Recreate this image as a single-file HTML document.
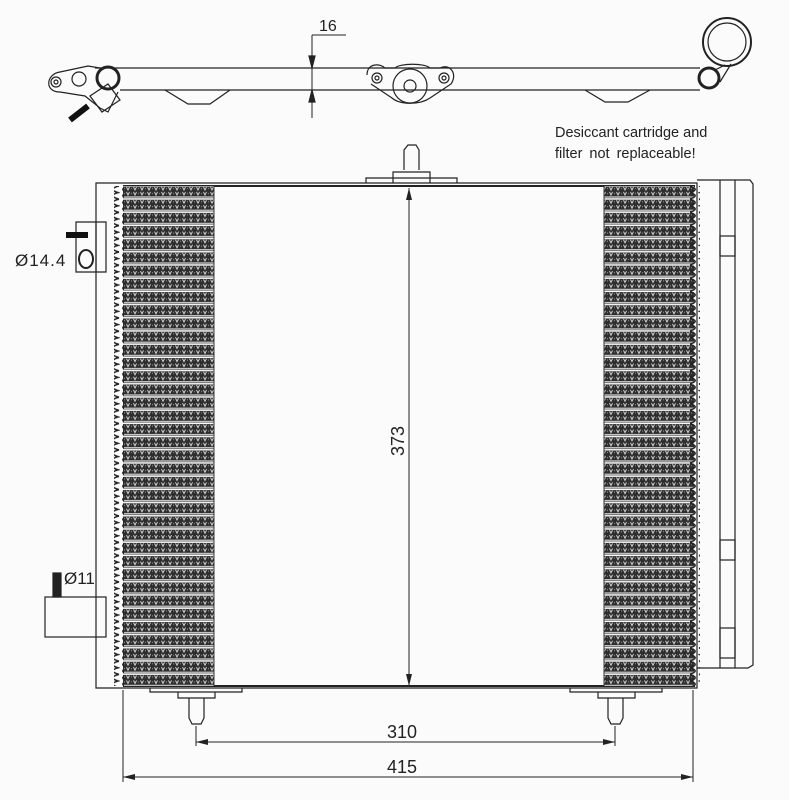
<!DOCTYPE html>
<html><head><meta charset="utf-8"><style>
html,body{margin:0;padding:0;background:#fbfbfb;}
svg{display:block;}
text{font-family:"Liberation Sans",sans-serif;fill:#222;}
</style></head><body>
<svg width="789" height="800" viewBox="0 0 789 800" xmlns="http://www.w3.org/2000/svg">
<defs>
<pattern id="chk" width="7" height="5" patternUnits="userSpaceOnUse">
<rect width="7" height="5" fill="#2e2e2e"/>
<path d="M0.5 1 L2 4 L3.5 1" fill="none" stroke="#e0e0e0" stroke-width="0.9"/>
<rect x="5" y="2" width="1" height="1" fill="#999"/>
</pattern>
<pattern id="rows" x="0" y="186" width="21" height="13.2" patternUnits="userSpaceOnUse">
<rect width="21" height="13.2" fill="#fbfbfb"/>
<rect y="0.5" width="21" height="10" fill="url(#chk)"/>
<line x1="0" y1="11.8" x2="21" y2="11.8" stroke="#777" stroke-width="1"/>
</pattern>
<pattern id="wave" x="0" y="186" width="10" height="13.2" patternUnits="userSpaceOnUse">
<path d="M9 0 C1 2,1 4.5,8 6.6 C1 8.7,1 11,9 13.2" fill="none" stroke="#222" stroke-width="1.6"/>
</pattern>
</defs>
<g stroke="#222" stroke-width="1.2" fill="none">
<!-- top pipe -->
<path d="M95 68 L700 68 M120 90 L700 90"/>
<path d="M60 72 C46 74,44 92,60 92 L85 96 L100 108 L108 112 L118 92"/>
<path d="M60 72 L88 66 L100 68"/>
<circle cx="56" cy="82" r="5"/><circle cx="56" cy="82" r="2"/>
<circle cx="79" cy="79" r="7"/>
<circle cx="108" cy="78" r="11" stroke-width="3"/>
<path d="M90 96 L108 84 L120 100 L102 112 Z"/>
<line x1="70" y1="120" x2="88" y2="106" stroke-width="6" stroke="#111"/>
<path d="M165 90 L188 104 L210 104 L230 90"/>
<path d="M585 90 L605 102 L628 102 L650 90"/>
<circle cx="727" cy="42" r="24" stroke-width="2"/><circle cx="727" cy="42" r="19"/>
<circle cx="709" cy="78" r="10" stroke-width="3"/>
<path d="M715 70 L725 65 M720 82 L731 64"/>
<!-- middle fitting -->
<path d="M367 75 C367 63,380 63,385 68 L395 68 C400 63,425 63,430 68 L440 68 C450 63,458 74,451 84 L430 98 C420 105,400 105,392 98 L371 84"/>
<circle cx="377" cy="78" r="5"/><circle cx="377" cy="78" r="2"/>
<circle cx="410" cy="86" r="17"/><circle cx="410" cy="86" r="6"/>
<circle cx="444" cy="78" r="5"/><circle cx="444" cy="78" r="2"/>
<!-- 16 dimension -->
<line x1="312" y1="35" x2="312" y2="118" stroke-width="1"/>
<line x1="312" y1="35" x2="346" y2="35" stroke-width="1"/>
<path d="M309 56 L312 68 L315 56 Z M309 102 L312 90 L315 102 Z" fill="#222"/>
<!-- top inlet -->
<path d="M404 170 L404 150 L408 145 L416 145 L419 150 L419 170"/>
<path d="M393 183 L393 172 L430 172 L430 183 M366 183 L366 178 L457 178 L457 183"/>
<!-- frame -->
<path d="M96 183 L697 183 L697 688 L96 688 Z"/>
<line x1="123" y1="186" x2="695" y2="186" stroke-width="2"/>
<line x1="123" y1="686" x2="695" y2="686" stroke-width="2"/>
<!-- right tank -->
<path d="M697 180 L750 180 L753 184 L753 665 L748 668 L697 668"/>
<line x1="720" y1="180" x2="720" y2="668"/><line x1="735" y1="180" x2="735" y2="668"/>
<rect x="720" y="236" width="15" height="20"/><rect x="720" y="540" width="15" height="20"/>
<rect x="720" y="628" width="15" height="30"/>
<!-- left connections -->
<path d="M76 222 L106 222 L106 272 L76 272 Z"/>
<line x1="96" y1="222" x2="96" y2="272"/>
<ellipse cx="86" cy="259" rx="7" ry="9" stroke-width="2"/>
<line x1="66" y1="235" x2="88" y2="235" stroke-width="6" stroke="#111"/>
<rect x="45" y="597" width="61" height="40"/>
<rect x="53" y="573" width="8" height="24" fill="#222"/>
<!-- bottom fittings -->
<path d="M150 688 L150 692 L242 692 L242 688 M178 692 L178 698 L215 698 L215 692"/>
<path d="M189 698 L189 718 L192 724 L201 724 L204 718 L204 698"/>
<path d="M570 688 L570 692 L662 692 L662 688 M598 692 L598 698 L635 698 L635 692"/>
<path d="M608 698 L608 718 L611 724 L620 724 L623 718 L623 698"/>
<!-- dims -->
<line x1="123" y1="690" x2="123" y2="782" stroke-width="1"/>
<line x1="693" y1="690" x2="693" y2="782" stroke-width="1"/>
<line x1="196" y1="726" x2="196" y2="746" stroke-width="1"/>
<line x1="615" y1="726" x2="615" y2="746" stroke-width="1"/>
<line x1="196" y1="742" x2="615" y2="742" stroke-width="1"/>
<line x1="123" y1="777" x2="693" y2="777" stroke-width="1"/>
<line x1="409" y1="188" x2="409" y2="686" stroke-width="1"/>
</g>
<g fill="#222">
<path d="M196 742 l12 -3 l0 6 Z M615 742 l-12 -3 l0 6 Z M123 777 l12 -3 l0 6 Z M693 777 l-12 -3 l0 6 Z M409 188 l-3 12 l6 0 Z M409 686 l-3 -12 l6 0 Z"/>
</g>
<!-- fins -->
<rect x="123" y="186" width="91" height="500" fill="url(#rows)"/>
<rect x="604" y="186" width="90" height="500" fill="url(#rows)"/>
<rect x="114" y="186" width="10" height="500" fill="url(#wave)"/>
<g transform="translate(808 0) scale(-1 1)"><rect x="108" y="186" width="10" height="500" fill="url(#wave)"/></g>
<line x1="214" y1="186" x2="214" y2="686" stroke="#333"/>
<line x1="604" y1="186" x2="604" y2="686" stroke="#333"/>
<!-- text -->
<text x="319" y="31" font-size="16">16</text>
<text x="555" y="137" font-size="14.5">Desiccant cartridge and</text>
<text x="555" y="158" font-size="14.5" word-spacing="3">filter not replaceable!</text>
<text x="15" y="266" font-size="17" letter-spacing="1">Ø14.4</text>
<text x="64" y="584" font-size="17" font-family="Liberation Serif">Ø11</text>
<text x="404" y="456" font-size="18" transform="rotate(-90 404 456)">373</text>
<text x="387" y="738" font-size="18">310</text>
<text x="387" y="773" font-size="18">415</text>
</svg>
</body></html>
